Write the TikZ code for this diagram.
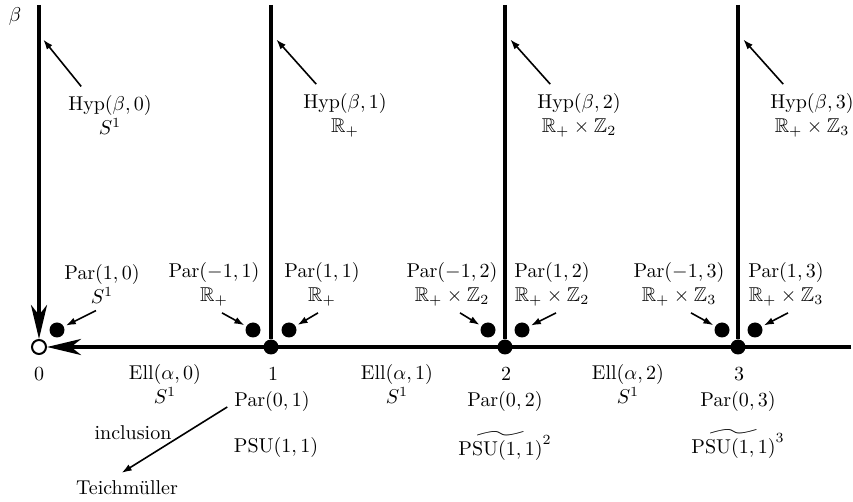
\documentclass[tikz,border=0pt]{standalone}
\usepackage{amsmath}
\usepackage{amssymb}
\usetikzlibrary{arrows.meta}

\begin{document}
\begin{tikzpicture}[x=0.5pt, y=-0.5pt,
        axisline/.style={line width=2pt},
        bigtip/.style={-{Stealth[length=17pt,width=8pt,inset=5pt]}},
        vertex/.style={circle, fill, inner sep=0pt, minimum size=7.5pt},
        smallarrow/.style={line width=0.8pt, -{Latex[length=5pt,width=3.5pt]}, shorten >=1pt},
        lbl/.style={align=center}]
            \useasboundingbox (0,0) rectangle (853,502);

            % points on the alpha axis
            \node[circle, draw, fill=white, line width=1pt, inner sep=0pt, minimum size=7pt] (v0) at (39,347) {};
            \node[vertex] (v1) at (271,347) {};
            \node[vertex] (v2) at (505,347) {};
            \node[vertex] (v3) at (738,347) {};

            \coordinate (t0) at (39,5);
            \coordinate (t1) at (271,5);
            \coordinate (t2) at (505,5);
            \coordinate (t3) at (738,5);
            \coordinate (rend) at (851,347);

            \draw[axisline, bigtip] (t0) -- (v0);
            \draw[axisline, bigtip] (rend) -- (v0);
            \draw[axisline] (t1) -- (v1);
            \draw[axisline] (t2) -- (v2);
            \draw[axisline] (t3) -- (v3);

            \node (beta) at (15,17) {$\beta$};

            % hyperbolic strata
            \node[lbl] (h0) at (110,115) {$\mathrm{Hyp}(\beta,0)$\\$S^1$};
            \node[lbl] (h1) at (345,115) {$\mathrm{Hyp}(\beta,1)$\\$\mathbb{R}_+$};
            \node[lbl] (h2) at (579,115) {$\mathrm{Hyp}(\beta,2)$\\$\mathbb{R}_+\times\mathbb{Z}_2$};
            \node[lbl] (h3) at (812,115) {$\mathrm{Hyp}(\beta,3)$\\$\mathbb{R}_+\times\mathbb{Z}_3$};

            \coordinate (a0) at (42,38);
            \coordinate (a1) at (275,38);
            \coordinate (a2) at (509,38);
            \coordinate (a3) at (742,38);

            \draw[smallarrow] ([xshift=10pt,yshift=1pt]h0.north west) -- (a0);
            \draw[smallarrow] ([xshift=10pt,yshift=1pt]h1.north west) -- (a1);
            \draw[smallarrow] ([xshift=10pt,yshift=1pt]h2.north west) -- (a2);
            \draw[smallarrow] ([xshift=10pt,yshift=1pt]h3.north west) -- (a3);

            % parabolic points
            \node[vertex] (d10) at (57,330) {};
            \node[vertex] (dm11) at (253,330) {};
            \node[vertex] (d11) at (289,330) {};
            \node[vertex] (dm12) at (488,330) {};
            \node[vertex] (d12) at (522,330) {};
            \node[vertex] (dm13) at (722,330) {};
            \node[vertex] (d13) at (755,330) {};

            \node[lbl] (l10) at (102,284) {$\mathrm{Par}(1,0)$\\$S^1$};
            \node[lbl] (lm11) at (214,284) {$\mathrm{Par}(-1,1)$\\$\mathbb{R}_+$};
            \node[lbl] (l11) at (322,284) {$\mathrm{Par}(1,1)$\\$\mathbb{R}_+$};
            \node[lbl] (lm12) at (452,284) {$\mathrm{Par}(-1,2)$\\$\mathbb{R}_+\times\mathbb{Z}_2$};
            \node[lbl] (l12) at (552,284) {$\mathrm{Par}(1,2)$\\$\mathbb{R}_+\times\mathbb{Z}_2$};
            \node[lbl] (lm13) at (679,284) {$\mathrm{Par}(-1,3)$\\$\mathbb{R}_+\times\mathbb{Z}_3$};
            \node[lbl] (l13) at (786,284) {$\mathrm{Par}(1,3)$\\$\mathbb{R}_+\times\mathbb{Z}_3$};

            \draw[smallarrow] ([xshift=-3pt]l10.south) -- (d10);
            \draw[smallarrow] ([xshift=4pt]lm11.south) -- (dm11);
            \draw[smallarrow] ([xshift=-2pt]l11.south) -- (d11);
            \draw[smallarrow] ([xshift=4pt]lm12.south) -- (dm12);
            \draw[smallarrow] ([xshift=2pt]l12.south) -- (d12);
            \draw[smallarrow] ([xshift=6pt]lm13.south) -- (dm13);
            \draw[smallarrow] ([xshift=1pt]l13.south) -- (d13);

            % elliptic part
            \node (n0) at (39,374) {$0$};
            \node (n1) at (273,374) {$1$};
            \node (n2) at (506,374) {$2$};
            \node (n3) at (739,374) {$3$};

            \node[lbl] (e0) at (165,384) {$\mathrm{Ell}(\alpha,0)$\\$S^1$};
            \node[lbl] (e1) at (397,384) {$\mathrm{Ell}(\alpha,1)$\\$S^1$};
            \node[lbl] (e2) at (628,384) {$\mathrm{Ell}(\alpha,2)$\\$S^1$};

            \node (p01) at (272,402) {$\mathrm{Par}(0,1)$};
            \node (p02) at (505,402) {$\mathrm{Par}(0,2)$};
            \node (p03) at (738,402) {$\mathrm{Par}(0,3)$};

            \node (g1) at (276,448) {$\mathrm{PSU}(1,1)$};
            \node (g2) at (505,446) {$\widetilde{\mathrm{PSU}(1,1)}{}^{\raisebox{2pt}{$\scriptstyle 2$}}$};
            \node (g3) at (738,444) {$\widetilde{\mathrm{PSU}(1,1)}{}^{\raisebox{2pt}{$\scriptstyle 3$}}$};

            \node (incl) at (133,433) {inclusion};
            \node (teich) at (127,488) {Teichmüller};
            \draw[smallarrow] ([yshift=-2.5pt]p01.west) -- ([xshift=-3.5pt]teich.north);
        \end{tikzpicture}
\end{document}
